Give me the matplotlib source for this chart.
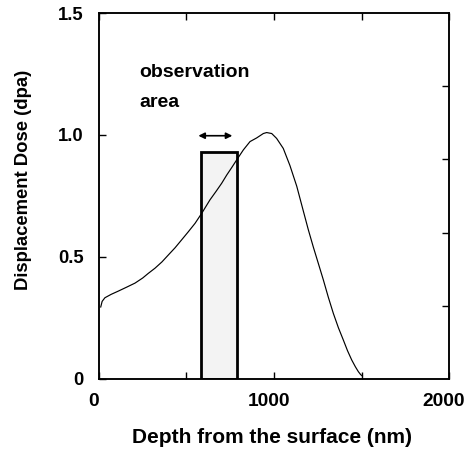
import matplotlib
matplotlib.use("Agg")
import matplotlib.pyplot as plt
import matplotlib.transforms as mtransforms
from matplotlib.patches import Rectangle

# Data
depth_nm = [10, 18, 34, 70, 110, 160, 206, 250, 282, 320, 360, 396, 435, 472, 510, 549, 587,
            634, 670, 701, 730, 758, 787, 825, 863, 901, 939, 958, 987, 1015, 1053, 1091,
            1130, 1167, 1196, 1225, 1254, 1282, 1310, 1339, 1368, 1396, 1420, 1444, 1465,
            1482, 1495, 1505]
dose_dpa = [0.295, 0.318, 0.333, 0.347, 0.360, 0.377, 0.393, 0.414, 0.433, 0.454, 0.480, 0.508,
            0.538, 0.570, 0.603, 0.638, 0.679, 0.734, 0.770, 0.802, 0.836, 0.866, 0.898, 0.939,
            0.973, 0.988, 1.006, 1.010, 1.006, 0.986, 0.945, 0.875, 0.790, 0.690, 0.612, 0.540,
            0.472, 0.406, 0.336, 0.269, 0.210, 0.160, 0.116, 0.078, 0.050, 0.030, 0.018, 0.012]

obs_area = [585, 790]        # depth range of observation area (nm)
obs_height = 0.93            # box height (dpa)
arrow_span = [568, 762]      # arrow extent (nm)
arrow_y = 0.997

x_ticks = [0, 500, 1000, 1500, 2000]
x_labels = ["0", "", "1000", "", "2000"]
y_ticks = [0, 0.5, 1.0, 1.5]
y_labels = ["0", "0.5", "1.0", "1.5"]
right_ticks = [0.3, 0.6, 0.9, 1.2]

plt.rcParams['font.family'] = ['Liberation Sans', 'DejaVu Sans']

fig = plt.figure(figsize=(4.72, 4.53), dpi=100)
ax = fig.add_axes([0.2097, 0.1634, 0.9513 - 0.2097, 0.9713 - 0.1634])

ax.add_patch(Rectangle((obs_area[0], 0), obs_area[1] - obs_area[0], obs_height,
                       facecolor='#f3f3f3', edgecolor='black', linewidth=2.0, zorder=2))
ax.plot(depth_nm, dose_dpa, color='black', linewidth=0.85, zorder=3)

ax.annotate('', xy=(arrow_span[0], arrow_y), xytext=(arrow_span[1], arrow_y),
            arrowprops=dict(arrowstyle='<|-|>', color='black', lw=1.2,
                            mutation_scale=9, shrinkA=0, shrinkB=0))

ax.text(229, 1.258, 'observation', fontsize=14, fontweight='bold', ha='left', va='center')
ax.text(229, 1.135, 'area', fontsize=14, fontweight='bold', ha='left', va='center')

ax.set_xlim(0, 2000)
ax.set_ylim(0, 1.5)
ax.set_xticks(x_ticks)
ax.set_xticklabels(x_labels)
ax.set_yticks(y_ticks)
ax.set_yticklabels(y_labels)
for lab in ax.get_xticklabels() + ax.get_yticklabels():
    lab.set_fontweight('bold')
ax.tick_params(axis='x', direction='in', length=5, width=1.0, labelsize=13.8, pad=10, top=True)
ax.tick_params(axis='y', direction='in', length=5, width=1.0, labelsize=13.3, pad=11)

offset = mtransforms.ScaledTranslation(-5 / 100, 0, fig.dpi_scale_trans)
for lab in ax.get_xticklabels():
    lab.set_transform(lab.get_transform() + offset)

ax2 = ax.twinx()
ax2.set_ylim(0, 1.5)
ax2.set_yticks(right_ticks)
ax2.set_yticklabels([])
ax2.tick_params(axis='y', direction='in', length=5, width=1.0)

for a in (ax, ax2):
    for s in a.spines.values():
        s.set_linewidth(1.1)

ax.set_xlabel('Depth from the surface (nm)', fontsize=15, fontweight='bold')
ax.set_ylabel('Displacement Dose (dpa)', fontsize=13.3, fontweight='bold')
ax.xaxis.set_label_coords((272 - 99) / 350, (379 - 438) / 366)
ax.yaxis.set_label_coords((24 - 99) / 350, (379 - 180) / 366)
ax.xaxis.label.set_va('center')
ax.yaxis.label.set_va('center')

fig.savefig('out.png', dpi=100)
